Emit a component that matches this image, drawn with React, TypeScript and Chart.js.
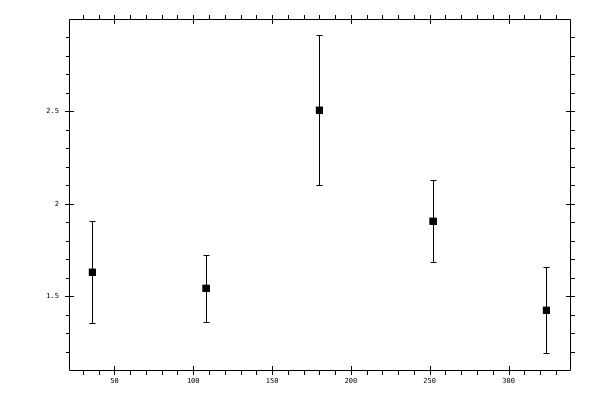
import React, { useEffect, useRef } from "react";
import { Chart, registerables } from "chart.js";

Chart.register(...registerables);

const xValues = [36, 108, 180, 252, 324];
const yValues = [1.63, 1.543, 2.507, 1.906, 1.424];
const yErrors = [0.276, 0.182, 0.406, 0.222, 0.233];

const xMin = 21.2;
const xMax = 339;
const yMin = 1.1;
const yMax = 3.0;

const xTickValues = [50, 100, 150, 200, 250, 300];
const xTickLabels = ["50", "100", "150", "200", "250", "300"];
const xMinorStep = 10;
const yTickValues = [1.5, 2, 2.5];
const yTickLabels = ["1.5", "2", "2.5"];
const yMinorStep = 0.1;

const FONT = "'DejaVu Sans Mono', monospace";

function minorValues(min: number, max: number, step: number, majors: number[]) {
  const out: number[] = [];
  const start = Math.ceil(min / step - 1e-9);
  const end = Math.floor(max / step + 1e-9);
  for (let k = start; k <= end; k++) {
    const v = +(k * step).toFixed(6);
    if (v <= min || v >= max) continue;
    if (majors.some((m) => Math.abs(m - v) < 1e-6)) continue;
    out.push(v);
  }
  return out;
}

const errorBarPlugin = {
  id: "errorBars",
  afterDatasetsDraw(chart: any) {
    const { ctx, scales } = chart;
    const xs = scales.x;
    const ys = scales.y;
    ctx.save();
    ctx.strokeStyle = "#000";
    ctx.lineWidth = 1;
    ctx.beginPath();
    for (let i = 0; i < xValues.length; i++) {
      const px = Math.round(xs.getPixelForValue(xValues[i])) + 0.5;
      const yt = Math.round(ys.getPixelForValue(yValues[i] + yErrors[i])) + 0.5;
      const yb = Math.round(ys.getPixelForValue(yValues[i] - yErrors[i])) + 0.5;
      ctx.moveTo(px, yt);
      ctx.lineTo(px, yb);
      ctx.moveTo(px - 3, yt);
      ctx.lineTo(px + 3, yt);
      ctx.moveTo(px - 3, yb);
      ctx.lineTo(px + 3, yb);
    }
    ctx.stroke();
    // redraw markers on top
    ctx.fillStyle = "#000";
    for (let i = 0; i < xValues.length; i++) {
      const px = Math.round(xs.getPixelForValue(xValues[i]));
      const py = Math.round(ys.getPixelForValue(yValues[i]));
      ctx.fillRect(px - 3, py - 3, 7, 7);
    }
    ctx.restore();
  },
};

const framePlugin = {
  id: "frame",
  afterDraw(chart: any) {
    const { ctx, chartArea: a, scales } = chart;
    const xs = scales.x;
    const ys = scales.y;
    const L = Math.round(a.left);
    const R = Math.round(a.right);
    const T = Math.round(a.top);
    const B = Math.round(a.bottom);
    ctx.save();
    ctx.strokeStyle = "#000";
    ctx.lineWidth = 1;
    ctx.beginPath();
    ctx.rect(L + 0.5, T + 0.5, R - L, B - T);
    // x ticks (bottom & top)
    const xMinor = minorValues(xMin, xMax, xMinorStep, xTickValues);
    for (const v of xTickValues) {
      const px = Math.round(xs.getPixelForValue(v)) + 0.5;
      ctx.moveTo(px, B - 4);
      ctx.lineTo(px, B + 5);
      ctx.moveTo(px, T - 4);
      ctx.lineTo(px, T + 5);
    }
    for (const v of xMinor) {
      const px = Math.round(xs.getPixelForValue(v)) + 0.5;
      ctx.moveTo(px, B);
      ctx.lineTo(px, B + 5);
      ctx.moveTo(px, T - 4);
      ctx.lineTo(px, T + 1);
    }
    // y ticks (left & right)
    const yMinor = minorValues(yMin, yMax, yMinorStep, yTickValues);
    for (const v of yTickValues) {
      const py = Math.round(ys.getPixelForValue(v)) + 0.5;
      ctx.moveTo(L - 4, py);
      ctx.lineTo(L + 5, py);
      ctx.moveTo(R - 4, py);
      ctx.lineTo(R + 5, py);
    }
    for (const v of yMinor) {
      const py = Math.round(ys.getPixelForValue(v)) + 0.5;
      ctx.moveTo(L - 3, py);
      ctx.lineTo(L + 1, py);
      ctx.moveTo(R, py);
      ctx.lineTo(R + 5, py);
    }
    ctx.stroke();
    ctx.restore();
  },
};

export default function App() {
  const ref = useRef<HTMLCanvasElement | null>(null);
  useEffect(() => {
    if (!ref.current) return;
    const chart = new Chart(ref.current, {
      type: "scatter",
      data: {
        datasets: [
          {
            data: xValues.map((x, i) => ({ x, y: yValues[i] })),
            pointStyle: "rect",
            pointRadius: 5,
            backgroundColor: "#000",
            borderColor: "#000",
            borderWidth: 0,
          },
        ],
      },
      options: {
        animation: false,
        responsive: false,
        devicePixelRatio: 1,
        layout: { padding: { top: 19, right: 30, left: 0, bottom: 0 } },
        plugins: { legend: { display: false }, tooltip: { enabled: false } },
        scales: {
          x: {
            type: "linear",
            min: xMin,
            max: xMax,
            afterBuildTicks: (s: any) => {
              s.ticks = xTickValues.map((v) => ({ value: v }));
            },
            afterFit: (s: any) => {
              s.height = 30;
            },
            grid: { display: false, drawTicks: false },
            border: { display: false },
            ticks: {
              color: "#000",
              padding: 7,
              maxRotation: 0,
              autoSkip: false,
              font: { family: FONT, size: 7 },
              callback: (v: any) => {
                const i = xTickValues.indexOf(Number(v));
                return i >= 0 ? xTickLabels[i] : "";
              },
            },
          },
          y: {
            type: "linear",
            min: yMin,
            max: yMax,
            afterBuildTicks: (s: any) => {
              s.ticks = yTickValues.map((v) => ({ value: v }));
            },
            afterFit: (s: any) => {
              s.width = 69;
            },
            grid: { display: false, drawTicks: false },
            border: { display: false },
            ticks: {
              color: "#000",
              padding: 10,
              autoSkip: false,
              font: { family: FONT, size: 7 },
              callback: (v: any) => {
                const i = yTickValues.indexOf(Number(v));
                return i >= 0 ? yTickLabels[i] : "";
              },
            },
          },
        },
      },
      plugins: [errorBarPlugin, framePlugin],
    });
    return () => chart.destroy();
  }, []);
  return (
    <div style={{ position: "fixed", left: 0, top: 0, width: 600, height: 400, background: "#fff" }}>
      <canvas ref={ref} width={600} height={400} />
    </div>
  );
}
